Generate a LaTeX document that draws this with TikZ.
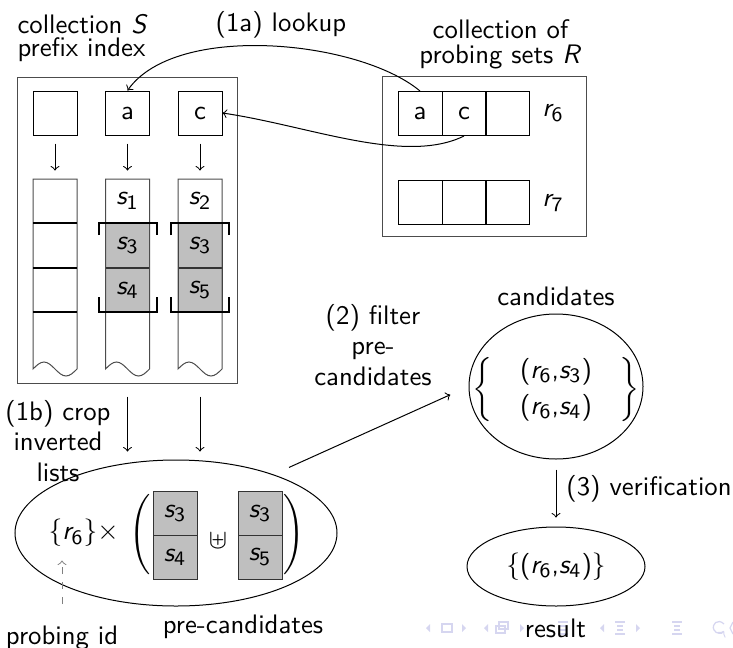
\documentclass[tikz,border=0pt]{standalone}
\usepackage{amsmath}
\usepackage{amssymb}
\usetikzlibrary{arrows}
\usetikzlibrary{shapes.geometric}
\renewcommand{\familydefault}{\sfdefault}
\DeclareMathSizes{10.7}{10.7}{8.2}{6.5}
\newcommand{\elem}[2]{\textit{#1}_{\textsf{#2}}}
\newcommand{\pair}[2]{\textup{(}\elem{r}{#1}\textup{,}\elem{s}{#2}\textup{)}}
\definecolor{navgray}{rgb}{0.84,0.84,0.94}
\tikzset{
  cell/.style={draw, minimum width=17.6pt, minimum height=17.6pt, inner sep=0pt},
  lcell/.style={cell, draw=none},
  hit/.style={cell, fill=gray!50, draw=black!80},
  frame/.style={draw=black!70, minimum width=#1},
  oval/.style={draw, ellipse, inner sep=0pt}
}

\begin{document}
\begin{tikzpicture}[x=0.4pt, y=-0.4pt, font=\fontsize{10.7}{12.3}\selectfont]
    \useasboundingbox (0,0) rectangle (733,647);

    % beamer navigation symbols
    \begin{scope}[navgray, line width=0.5pt]
      \foreach \x in {428,486,602}
        \fill (\x+2,624) -- (\x-2,628) -- (\x+2,632) -- cycle;
      \foreach \x in {464,522,638}
        \fill (\x-2,624) -- (\x+2,628) -- (\x-2,632) -- cycle;
      \draw (442,624) rectangle (452,632);
      \draw (496,626) rectangle (505,633) (499,622) rectangle (508,629);
      \foreach \x in {563,620,677}
        \draw (\x-5,622) -- (\x+5,622) (\x-3,626) -- (\x+3,626)
              (\x-3,630) -- (\x+3,630) (\x-5,634) -- (\x+5,634);
      \draw[->] (724,624) .. controls (718,618) and (711,624) .. (714,630)
                .. controls (716,634) and (722,634) .. (724,631);
      \draw (733,622) -- (730,628) -- (733,634);
    \end{scope}

    % collection S with its prefix index
    \node[frame=87.6pt, minimum height=122.4pt] (sbox) at (127.5,230) {};
    \node[anchor=north west, inner sep=0pt, align=left,
          font=\fontsize{10.7}{9}\selectfont] (stitle) at (17,14)
          {collection \textit{S}\\prefix index};
    \node[cell] (t1) at (55,113) {};
    \node[cell] (t2) at (127.5,113) {a};
    \node[cell] (t3) at (200,113) {c};

    \node[lcell] (h1) at (55,201) {};
    \node[lcell] (h2) at (127.5,201) {$\elem{s}{1}$};
    \node[lcell] (h3) at (200,201) {$\elem{s}{2}$};
    \node[hit] (sa) at (127.5,245.5) {$\elem{s}{3}$};
    \node[hit] (sb) at (127.5,290) {$\elem{s}{4}$};
    \node[hit] (sc) at (200,245.5) {$\elem{s}{3}$};
    \node[hit] (sd) at (200,290) {$\elem{s}{5}$};

    \foreach \x in {55,127.5,200}
      \draw[black!70] (\x-22,312) -- (\x-22,179) -- (\x+22,179) -- (\x+22,312)
        (\x-22,312) -- (\x-22,369) sin (\x-11,362) cos (\x,369)
        sin (\x+11,376) cos (\x+22,369) -- (\x+22,312);
    \draw[line width=0.8pt] (33,223) -- (77,223) (33,268) -- (77,268)
      (33,312) -- (77,312);
    \foreach \x in {127.5,200}
      \draw[line width=0.8pt] (\x-29,235) -- (\x-29,223) -- (\x+29,223) -- (\x+29,235)
        (\x-29,297) -- (\x-29,312) -- (\x+29,312) -- (\x+29,297);

    \foreach \n in {1,2,3}
      \draw[->, shorten <=3.2pt, shorten >=3.2pt] (t\n) -- (h\n);

    % collection R of probing sets
    \node[frame=81.6pt, minimum height=64pt] (rbox) at (484,156) {};
    \node[anchor=north, inner sep=0pt, align=center,
          font=\fontsize{10.7}{10}\selectfont] (rtitle) at (500.5,19)
          {collection of\\probing sets \textit{R}};
    \node[cell] (ra) at (420,113.5) {a};
    \node[cell] (rc) at (464,113.5) {c};
    \node[cell] (rx) at (507.5,113.5) {};
    \node[cell] (ry) at (420,202.5) {};
    \node[cell] (rz) at (464,202.5) {};
    \node[cell] (rw) at (507.5,202.5) {};
    \node (lsix) at (553,113) {$\elem{r}{6}$};
    \node (lseven) at (553,203) {$\elem{r}{7}$};

    % (1a) lookup
    \node (look) at (281,25) {(1a) lookup};
    \draw[->] (ra.north) .. controls (359,40) and (176,22) .. (t2.north);
    \draw[->] (rc.south) .. controls (405,165) and (310,126) .. (t3.east);

    % (1b) crop
    \node[align=center] (crop) at (58,441) {(1b) crop\\inverted\\lists};
    \node[oval, minimum width=128.8pt, minimum height=58.4pt] (pc) at (176,533) {};
    \draw[->, shorten <=5.2pt, shorten >=3.2pt] (sbox.south -| h2) -- (pc.north -| h2);
    \draw[->, shorten <=5.2pt, shorten >=3.2pt] (sbox.south -| h3) -- (pc.north -| h3);

    \node (pr) at (73,533) {$\{\elem{r}{6}\}$};
    \node (tm) at (108,533) {$\times$};
    \node (lp) at (140,535) {$\Biggl($};
    \node[hit] (pa) at (175,513.5) {$\elem{s}{3}$};
    \node[hit] (pb) at (175,557) {$\elem{s}{4}$};
    \node (cup) at (218,541) {$\uplus$};
    \node[hit] (pd) at (260,513.5) {$\elem{s}{3}$};
    \node[hit] (pe) at (260,557) {$\elem{s}{5}$};
    \node (rp) at (294,535) {$\Biggr)$};
    \node (prel) at (243,627) {pre-candidates};
    \node (pid) at (62,638) {probing id};
    \draw[->, dashed, gray, shorten <=5.2pt, shorten >=2pt] (pid.north) -- (pid.north |- pr.south);

    % (2) filter
    \node[oval, minimum width=69.6pt, minimum height=58pt] (cand) at (556,386.5) {};
    \node (cset) at (556,390)
      {$\left\{\hspace{6pt}\begin{array}{c}\pair{6}{3}\\[2pt]\pair{6}{4}\end{array}\hspace{6pt}\right\}$};
    \node (candl) at (556,296) {candidates};
    \node[align=center] (filt) at (373,345) {(2) filter\\pre-\\candidates};
    \draw[->, shorten <=6.8pt, shorten >=8pt] (pc.31) -- (cand.180);

    % (3) verification
    \node[oval, minimum width=71.2pt, minimum height=31.6pt] (res) at (556,566.5)
      {$\{\pair{6}{4}\}$};
    \node (resl) at (555.5,628) {result};
    \draw[->, shorten <=4pt, shorten >=3.6pt] (cand) -- (res);
    \node (verif) at (649,489) {(3) verification};
\end{tikzpicture}
\end{document}
